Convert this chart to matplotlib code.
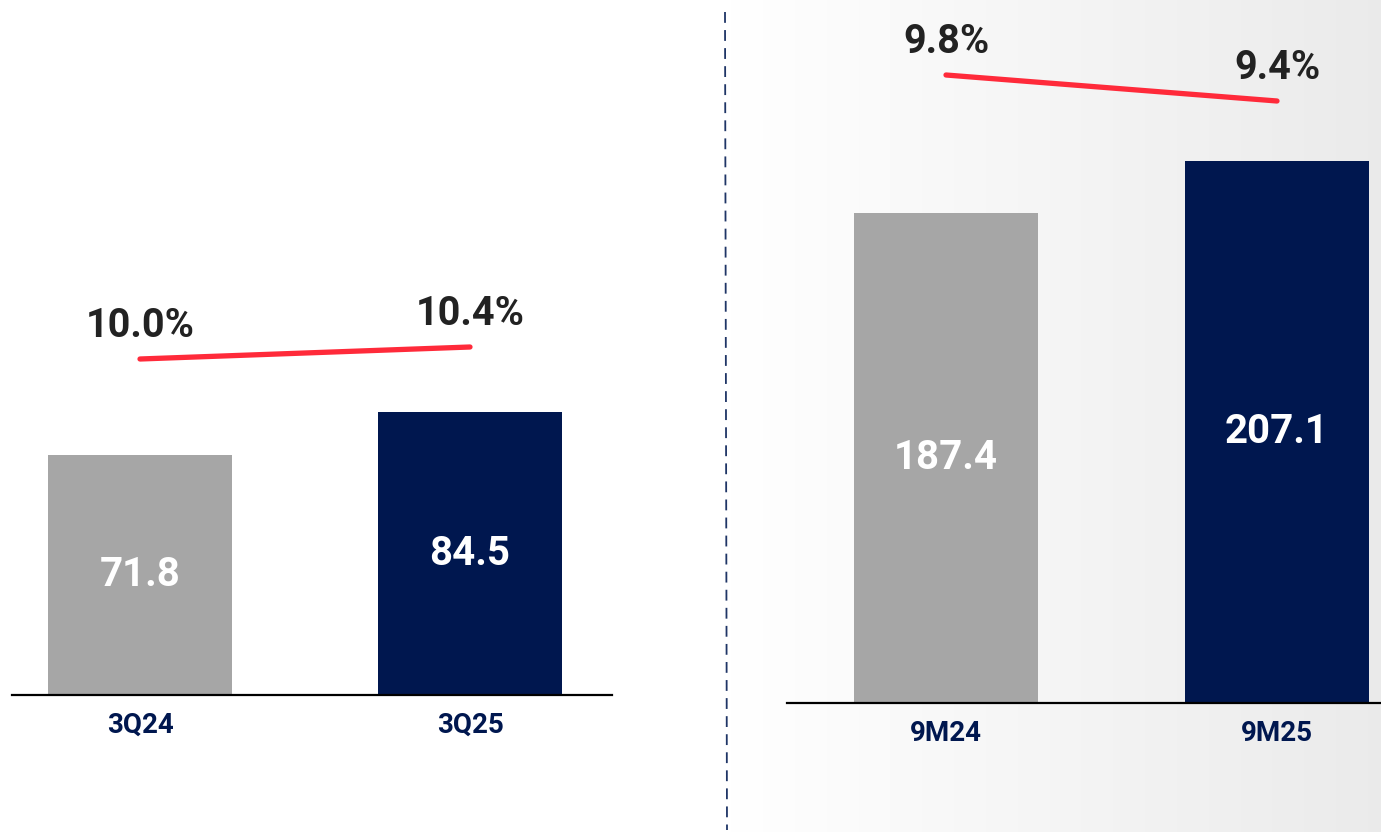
import numpy as np
import matplotlib
matplotlib.use('Agg')
import matplotlib.pyplot as plt

# data
q_labels = ['3Q24', '3Q25']
q_values = [71.8, 84.5]
q_margin = [10.0, 10.4]

m_labels = ['9M24', '9M25']
m_values = [187.4, 207.1]
m_margin = [9.8, 9.4]

grey = '#A6A6A6'
navy = '#00174F'
red = '#FF2A3A'
dark = '#222222'
font = ['Roboto', 'DejaVu Sans']

W, H = 1381, 832
fig = plt.figure(figsize=(W / 100, H / 100), dpi=100)
fig.patch.set_facecolor('white')

# grey gradient behind the right panel
bg = fig.add_axes([730 / W, 0, 1 - 730 / W, 1])
grad = np.linspace(1.0, 0.92, 256).reshape(1, -1)
bg.imshow(np.dstack([grad, grad, grad]), aspect='auto', extent=[0, 1, 0, 1])
bg.axis('off')

# dashed divider
fig.add_artist(plt.Line2D([725 / W, 727 / W], [1 - 12 / H, 1 - 830 / H],
                          color='#1F3566', lw=1.3, ls=(0, (6, 4))))


def panel(x0, x1, base, px_per_val, c0, c1, px_per_pct, pct_y0,
          labels, values, margins):
    w_px = x1 - x0
    ax = fig.add_axes([x0 / W, (H - base) / H, w_px / W, base / H])
    ax.patch.set_alpha(0)
    step = c1 - c0
    lo = -(c0 - x0) / step
    ax.set_xlim(lo, lo + w_px / step)
    ax.set_ylim(0, base / px_per_val)
    x = np.arange(len(values))
    ax.bar(x, values, width=184 / step, color=[grey, navy])
    for s in ['top', 'left', 'right']:
        ax.spines[s].set_visible(False)
    ax.spines['bottom'].set_linewidth(1.6)
    ax.set_xticks([])
    ax.set_yticks([])
    for xi, v, lab in zip(x, values, labels):
        ax.text(xi, v / 2, f'{v:.1f}', ha='center', va='center', color='white',
                fontsize=29, fontweight='bold', family=font)
        ax.annotate(lab, (xi, 0), xycoords='data', xytext=(0, -22),
                    textcoords='offset points', ha='center', va='center',
                    color=navy, fontsize=20, fontweight='bold', family=font)

    # margin line on its own scale
    ax2 = ax.twinx()
    ax2.set_xlim(ax.get_xlim())
    bottom = margins[0] - (base - pct_y0) / px_per_pct
    ax2.set_ylim(bottom, bottom + base / px_per_pct)
    ax2.plot(x, margins, color=red, lw=3.8, solid_capstyle='round')
    ax2.axis('off')
    for xi, m in zip(x, margins):
        ax2.annotate(f'{m:.1f}%', (xi, m), xytext=(0, 24),
                     textcoords='offset points', ha='center', va='center',
                     color=dark, fontsize=28.5, fontweight='bold', family=font)


panel(12, 612, 695, 523 / 156.3, 140, 470, 30, 359, q_labels, q_values, q_margin)
panel(787, 1381, 703, 1032 / 394.5, 946, 1277, 65, 75, m_labels, m_values, m_margin)

fig.savefig('out.png', dpi=100)
